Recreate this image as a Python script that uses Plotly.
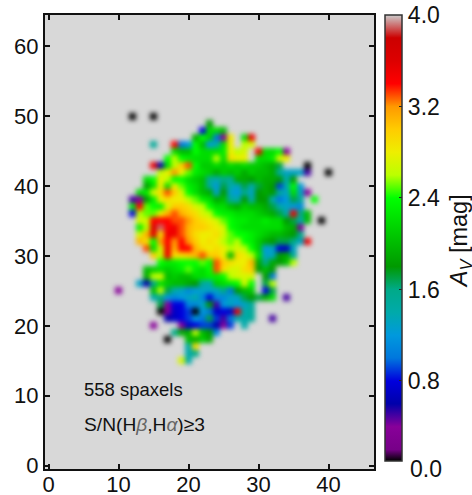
import numpy as np
import plotly.graph_objects as go

_ = None
# Av [mag] per spaxel: y -> (first x, values along x)
row_y = list(range(50, 14, -1))
row_x0 = [12, 23, 22, 21, 15, 18, 17, 15, 16, 14, 14, 13, 12, 12, 12, 13, 13, 13, 13, 14, 15, 16, 14, 14, 13, 10, 15, 16, 16, 17, 15, 18, 17, 20, 20, 19]
row_values = [
    [.05, _, _, .05],
    [1.8],
    [.8, 2.2, 2.2, 2.0],
    [1.9, 2.4, 2.1, 1.0, .4, 2.8, _, 2.2, 3.5],
    [1.5, _, _, 3.4, 1.0, 1.2, 2.4, 2.0, 1.2, 1.4, 2.2, 2.8, _, 2.6, 2.7],
    [2.2, 2.0, 2.0, 2.4, 2.2, 2.2, 2.2, 2.3, 2.8, 2.6, 2.7, _, 3.5, 2.2, 2.2, 2.4, .4],
    [2.4, 2.6, 2.4, 2.3, 2.2, 2.2, 2.2, 2.6, 2.2, 2.9, 2.8, 2.8, _, 2.2, 2.2, 2.3, 2.7, 2.8],
    [3.5, .6, 2.2, 2.6, 3.0, 3.3, 2.4, 2.1, 2.1, 2.2, 2.1, 2.2, 2.1, 2.2, 2.1, 2.1, 2.0, 1.9, 1.7, _, _, _, .05],
    [2.6, 2.8, 3.2, 2.8, 2.5, 2.3, 2.2, 2.1, 1.9, 2.1, 2.0, 2.1, 1.9, 2.1, 2.0, 2.0, 1.9, 1.5, 1.3, 1.3, 1.3, .5, _, _, .05],
    [2.2, 2.4, 2.8, 2.6, 2.4, 2.4, 2.2, 2.1, 2.0, 1.5, 1.4, 1.6, 1.5, 1.9, 1.9, 1.8, 2.0, 1.9, 1.9, 1.8, 1.4, 1.8],
    [1.8, 2.2, 2.8, 2.2, 2.8, 2.5, 2.3, 2.2, 2.0, 1.5, 1.2, 1.7, 1.4, 1.3, 1.7, 1.4, 1.7, 1.9, 1.8, .9, 1.4, 2.4, 1.2],
    [2.2, 2.3, 2.7, 2.9, 3.3, 3.0, 2.7, 2.4, 2.2, 2.0, 1.9, 1.3, 1.8, 1.3, 1.2, 1.6, 1.3, 1.8, 1.9, 1.8, 1.5, 1.3, 2.2, 1.3, .4],
    [.5, .4, 1.8, 2.3, 2.8, 2.9, 2.8, 2.8, 2.6, 2.5, 2.3, 2.2, 1.9, 2.0, 1.5, 1.4, 1.8, 1.4, 1.8, 1.8, 1.4, 1.0, 1.2, 1.7, 1.5, _, 2.4],
    [2.3, 3.4, 2.5, 2.4, 2.3, 2.7, 3.0, 3.0, 2.9, 2.7, 2.6, 2.4, 2.2, 2.2, 2.0, 1.9, 2.1, 2.0, 2.0, 1.9, 1.7, 1.4, 1.3, 1.2, 1.1],
    [.8, 2.6, 2.5, 2.5, 2.8, 3.1, 3.3, 3.1, 3.0, 2.9, 2.7, 2.6, 2.4, 2.3, 2.3, 2.2, 2.2, 2.2, 2.1, 2.0, 1.9, 1.7, 1.4, 3.5, 1.6, 2.0],
    [2.7, 2.7, 3.4, 3.4, 3.4, 3.3, 3.3, 3.2, 3.0, 2.9, 2.8, 2.7, 2.5, 2.4, 2.3, 2.3, 2.2, 2.2, 2.3, 2.2, 2.2, 1.8, 1.7, 1.4, 2.0, _, .05],
    [2.3, 2.6, 3.6, 3.9, 3.4, 3.5, 3.3, 3.1, 3.0, 3.0, 2.9, 2.8, 2.7, 2.4, 2.3, 2.2, 2.2, 2.2, 2.2, 2.2, 2.2, 2.0, 1.9, .3],
    [2.7, 3.1, 3.6, 2.9, 3.5, 3.5, 3.3, 3.1, 2.9, 2.8, 2.8, 2.9, 2.7, 2.5, 2.4, 2.4, 2.3, 2.2, 2.1, 2.0, 2.0, 1.9, 1.8, 1.6],
    [3.1, 2.9, 2.4, 3.2, 3.4, 3.2, 3.4, 3.2, 3.0, 2.8, 2.9, 2.8, 2.6, 2.5, 2.6, 2.4, 2.3, 2.1, 1.9, 1.8, 1.7, 1.7, 1.6, 1.3, 3.5],
    [3.3, 2.2, 2.7, 3.5, 3.1, 3.4, 3.4, 3.1, 2.9, 2.8, 2.9, 2.8, 2.6, 2.7, 2.6, 2.4, 2.1, 1.2, 1.3, .8, .7, 1.3],
    [3.0, 2.6, 3.5, 2.9, 2.9, 3.0, 3.1, 3.3, 3.0, 3.0, 2.8, 2.0, 2.9, 2.8, 2.6, 2.2, 1.3, 1.3, 1.8, 1.9, 1.5],
    [2.4, 2.3, 2.3, 2.4, 2.4, 2.4, 2.5, 2.4, 3.3, 3.0, 2.9, 2.8, 2.8, 3.1, 1.9, 1.6, 1.9, 1.8, 2.0, 2.6],
    [2.0, 2.1, 2.2, 2.1, 2.2, 2.3, 2.5, 2.3, 2.2, 2.4, 3.3, 2.9, 2.7, 2.7, 2.9, 3.0, 1.8, 2.0, 1.8],
    [1.9, 2.6, 2.7, 2.0, 2.1, 2.0, 2.0, 2.2, 2.2, 2.3, 2.3, 2.4, 2.6, 2.7, 2.7, 2.7, _, 1.8, 1.0],
    [1.3, .6, 1.6, 2.2, 2.1, 2.0, 2.0, 1.9, 1.8, 1.5, 1.4, 2.1, 2.2, 2.3, 2.4, 2.7, 2.4, _, 1.7, 2.6],
    [.4, _, _, _, _, 2.0, 2.6, 1.7, 1.4, 1.3, 1.1, 1.2, 1.3, 1.3, 1.3, 1.6, 1.0, 1.8, 2.0, 2.1, _, .8, 1.7],
    [1.4, 1.6, 1.2, 1.1, 1.2, 1.3, 1.4, 1.1, .8, 1.1, 1.1, 1.3, 1.3, 1.7, 1.8, 1.7, 1.9, 2.2, _, .5],
    [1.7, .4, .8, .8, 1.1, 1.1, 1.3, 1.8, .5, 1.2, 1.3, 1.2, 1.3, 1.5],
    [.1, .4, .7, .8, .9, .1, 1.2, 1.0, .7, .8, .7, 3.5, 1.4, 1.5],
    [.6, .7, .8, .9, 1.2, 1.0, 1.7, .9, .5, 1.0, 1.4, 1.4, 1.5, _, _, .5],
    [.4, _, _, _, .4, .7, .8, .9, .9, .6, .4, .9, _, 1.4],
    [1.6, 1.9, 1.9, 2.6, 2.0, 1.8, 1.1],
    [.05, _, _, 2.0, 1.9, 2.1, 1.9],
    [1.4, 2.9],
    [1.4, 1.6],
    [2.7, 1.4],
]
x_ticks = [0, 10, 20, 30, 40]
y_ticks = [0, 10, 20, 30, 40, 50, 60]
bar_ticks = [0.8, 1.6, 2.4, 3.2, 4.0]
scale_z = [0.1, 0.2, 0.4, 0.6, 0.8, 1.0, 1.2, 1.4, 1.6, 1.8, 2.0, 2.2, 2.4, 2.6, 2.8, 3.0, 3.2, 3.4, 3.6, 3.8, 4.0]
scale_rgb = ["#000000", "#770088", "#880099", "#0000aa", "#0000dd", "#0077dd", "#0099dd", "#00aaaa", "#00aa88",
             "#009900", "#00bb00", "#00dd00", "#00ff00", "#bbff00", "#eeee00", "#ffcc00", "#ff9900", "#ff0000",
             "#dd0000", "#cc0000", "#cccccc"]
gray = "rgb(216,216,216)"

xs = np.arange(8, 44)
ys = np.arange(13, 53)
Z = np.full((len(ys), len(xs)), np.nan)
for y, x0, vals in zip(row_y, row_x0, row_values):
    for i, v in enumerate(vals):
        if v is not None:
            Z[y - ys[0], x0 + i - xs[0]] = v

cs = [[(z - scale_z[0]) / (scale_z[-1] - scale_z[0]), c] for z, c in zip(scale_z, scale_rgb)]

fig = go.Figure()
fig.add_trace(go.Heatmap(
    x=xs, y=ys, z=Z, zmin=0.1, zmax=4.0, colorscale=cs, hoverinfo="skip", hoverongaps=False,
    colorbar=dict(
        x=1.0334, xanchor="left", xpad=0, y=1, yanchor="top", ypad=0,
        lenmode="pixels", len=446, thickness=17, thicknessmode="pixels",
        outlinecolor="#333333", outlinewidth=1.5, borderwidth=0,
        tickmode="array", tickvals=bar_ticks, ticktext=[f"{v:.1f}" for v in bar_ticks],
        ticks="inside", ticklen=3, tickwidth=1, tickcolor="#222222",
        tickfont=dict(family="Liberation Sans", size=23, color="#111111"),
    ),
))
axis = dict(showgrid=False, zeroline=False, showline=True, linecolor="#111111", linewidth=2, mirror="ticks",
            ticks="inside", ticklen=5, tickwidth=1.5, tickcolor="#111111",
            tickfont=dict(family="Liberation Sans", size=22, color="#111111"))
greek = '<span style="color:#666666"><i>{}</i></span>'
fig.update_layout(
    width=472, height=495, autosize=False,
    margin=dict(l=45, r=98, t=14.5, b=25.5, autoexpand=False),
    paper_bgcolor="white", plot_bgcolor=gray,
    xaxis=dict(range=[-0.5, 46.5], tickvals=x_ticks, ticklabelstandoff=-5, **axis),
    yaxis=dict(range=[-0.5, 64.5], tickvals=y_ticks, **axis),
    showlegend=False,
    annotations=[
        dict(text="558 spaxels", x=4.8, y=10.9, xref="x", yref="y", xanchor="left", yanchor="middle",
             showarrow=False, font=dict(family="Liberation Sans", size=18.5, color="#111111")),
        dict(text="S/N(H" + greek.format("β") + ",H" + greek.format("α") + ")≥3", x=4.8, y=5.9, xref="x", yref="y",
             xanchor="left", yanchor="middle",
             showarrow=False, font=dict(family="Liberation Sans", size=19.2, color="#111111")),
        dict(text="0.0", x=1.104, y=0.0, xref="paper", yref="paper", xanchor="left", yanchor="middle",
             showarrow=False, font=dict(family="Liberation Sans", size=23, color="#111111")),
        dict(text="<i>A<sub>V</sub></i> [mag]", x=1.262, y=0.502, xref="paper", yref="paper", xanchor="center",
             yanchor="middle", textangle=-90, showarrow=False,
             font=dict(family="Liberation Sans", size=23.5, color="#111111")),
    ],
)
# Page without its 8 px body margin; the cell image is softened like the reference's resampled map
post = ("document.body.style.margin='0';"
        "document.querySelectorAll('.heatmaplayer image').forEach(function(e){e.style.filter='blur(2.4px)';});")
fig.write_html("out.html", post_script=post, config={"displayModeBar": False})
